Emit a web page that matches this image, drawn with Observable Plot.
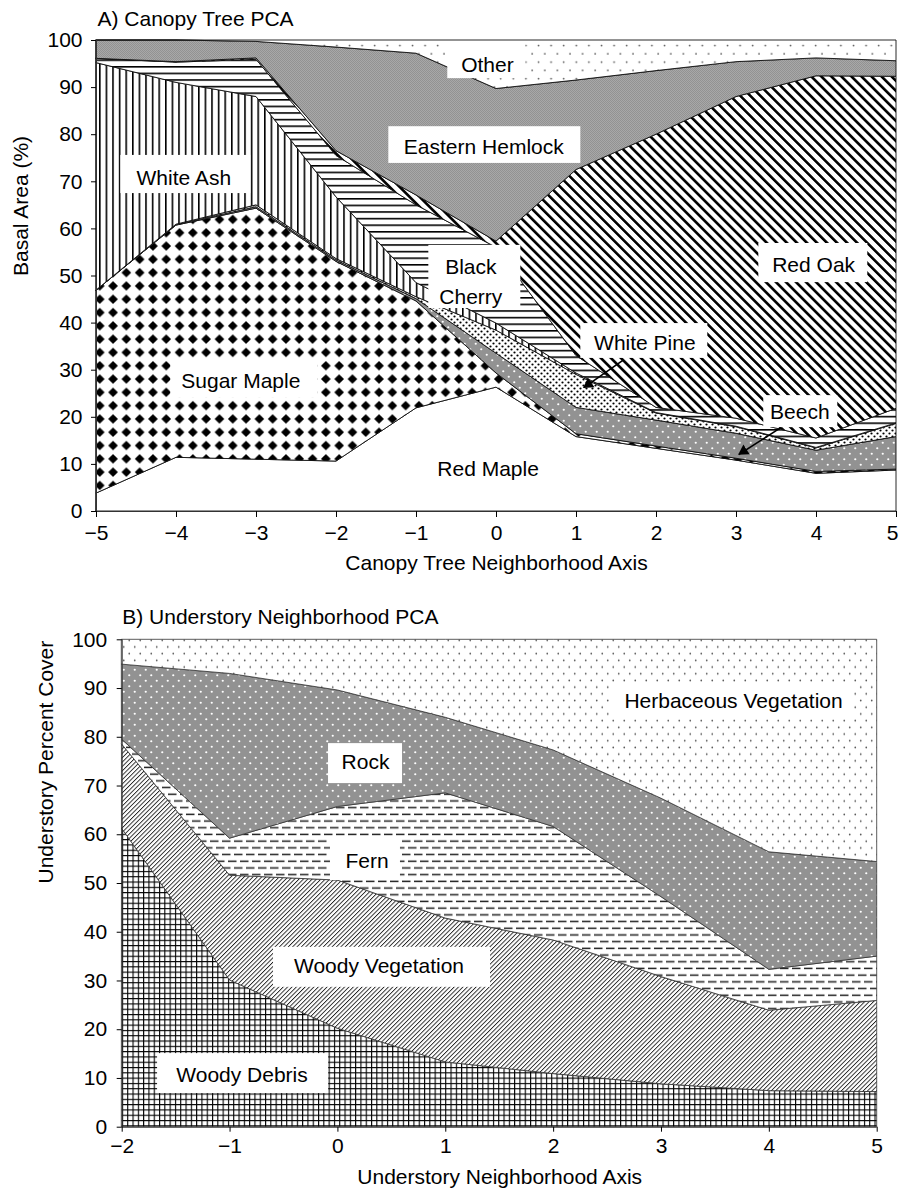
<!DOCTYPE html>
<html>
<head>
<meta charset="utf-8">
<script src="https://cdn.jsdelivr.net/npm/d3@7"></script>
<script src="https://cdn.jsdelivr.net/npm/@observablehq/plot@0.6"></script>
<style>
  html, body { margin: 0; padding: 0; background: #fff; overflow: hidden; }
  #page { position: relative; width: 899px; height: 1189px; }
  #chartA { position: absolute; left: 0; top: 0; }
  #chartB { position: absolute; left: 0; top: 590px; }
</style>
</head>
<body>
<svg width="0" height="0" style="position:absolute">
  <defs>
    <pattern id="pSugar" patternUnits="userSpaceOnUse" width="13.3" height="13.3">
      <rect width="13.3" height="13.3" fill="#fff"/>
      <path d="M6.65 1.8L11.5 6.65L6.65 11.5L1.8 6.65Z" fill="#000"/>
    </pattern>
    <pattern id="pBeech" patternUnits="userSpaceOnUse" width="11" height="11">
      <rect width="11" height="11" fill="#929292"/>
      <circle cx="2.75" cy="2.75" r="1.1" fill="#fff"/>
      <circle cx="8.25" cy="8.25" r="1.1" fill="#fff"/>
    </pattern>
    <pattern id="pPine" patternUnits="userSpaceOnUse" width="6" height="6">
      <rect width="6" height="6" fill="#fff"/>
      <circle cx="1.5" cy="1.5" r="1.1" fill="#000"/>
      <circle cx="4.5" cy="4.5" r="1.1" fill="#000"/>
    </pattern>
    <pattern id="pAsh" patternUnits="userSpaceOnUse" width="6.6" height="10">
      <rect width="6.6" height="10" fill="#fff"/>
      <rect width="1.6" height="10" fill="#000"/>
    </pattern>
    <pattern id="pCherry" patternUnits="userSpaceOnUse" width="10" height="6.6">
      <rect width="10" height="6.6" fill="#fff"/>
      <rect width="10" height="1.6" fill="#000"/>
    </pattern>
    <pattern id="pOak" patternUnits="userSpaceOnUse" width="7.1" height="10" patternTransform="rotate(-45)">
      <rect width="7.1" height="10" fill="#fff"/>
      <rect width="2.6" height="10" fill="#000"/>
    </pattern>
    <pattern id="pHemlock" patternUnits="userSpaceOnUse" width="2" height="2">
      <rect width="2" height="2" fill="#a8a8a8"/>
      <rect width="1" height="1" fill="#929292"/>
      <rect x="1" y="1" width="1" height="1" fill="#929292"/>
    </pattern>
    <pattern id="pOther" patternUnits="userSpaceOnUse" width="12.6" height="16.6">
      <rect width="12.6" height="16.6" fill="#fff"/>
      <circle cx="3" cy="4" r="0.9" fill="#555"/>
      <circle cx="9.3" cy="12.3" r="0.9" fill="#555"/>
    </pattern>
    <pattern id="pDebris" patternUnits="userSpaceOnUse" width="5.3" height="5.3">
      <rect width="5.3" height="5.3" fill="#fff"/>
      <rect width="1.1" height="5.3" fill="#000"/>
      <rect width="5.3" height="1.1" fill="#000"/>
    </pattern>
    <pattern id="pWoodyVeg" patternUnits="userSpaceOnUse" width="3.1" height="10" patternTransform="rotate(45)">
      <rect width="3.1" height="10" fill="#fff"/>
      <rect width="0.9" height="10" fill="#222"/>
    </pattern>
    <pattern id="pFern" patternUnits="userSpaceOnUse" width="12" height="13.4">
      <rect width="12" height="13.4" fill="#fff"/>
      <rect x="0" y="2.5" width="8.5" height="1.5" fill="#222"/>
      <rect x="6" y="9.2" width="6" height="1.5" fill="#222"/>
      <rect x="0" y="9.2" width="2.5" height="1.5" fill="#222"/>
    </pattern>
    <pattern id="pRock" patternUnits="userSpaceOnUse" width="11" height="11">
      <rect width="11" height="11" fill="#929292"/>
      <circle cx="2.75" cy="2.75" r="1.1" fill="#fff"/>
      <circle cx="8.25" cy="8.25" r="1.1" fill="#fff"/>
    </pattern>
    <pattern id="pHerb" patternUnits="userSpaceOnUse" width="11" height="13.4">
      <rect width="11" height="13.4" fill="#fff"/>
      <circle cx="2.75" cy="3.35" r="0.85" fill="#555"/>
      <circle cx="8.25" cy="10.05" r="0.85" fill="#555"/>
    </pattern>
  </defs>
</svg>
<div id="page">
  <div id="chartA"></div>
  <div id="chartB"></div>
</div>
<script>
// ---------- Data: A) Canopy Tree PCA (basal area %, stacked) ----------
const canopyX = [-5, -4, -3, -2, -1, 0, 1, 2, 3, 4, 5];
const redMaple    = [3.8, 11.4, 11.0, 10.6, 21.9, 26.3, 15.8, 13.3, 10.8, 8.0, 8.7];
const sugarMaple  = [43.1, 49.3, 53.3, 42.4, 22.7, 3.0, 0.6, 0.5, 0.4, 0.4, 0.2];
const beech       = [0, 0.1, 0.3, 0.3, 0.5, 4.2, 5.6, 5.5, 5.3, 4.5, 6.9];
const whitePine   = [0, 0.1, 0.4, 0.3, 0.4, 4.9, 7.0, 1.5, 1.4, 0.5, 2.8];
const whiteAsh    = [48.3, 30.1, 23.0, 13.1, 3.0, 1.5, 0.3, 0.1, 0.1, 0.1, 0.1];
const blackCherry = [0.9, 4.3, 7.9, 8.8, 16.5, 16.1, 3.7, 1.1, 1.7, 2.0, 3.1];
const redOak      = [0, 0.1, 0.3, 1.0, 2.1, 1.3, 39.5, 58.0, 68.3, 76.9, 70.5];
const hemlock     = [3.9, 4.6, 3.5, 22.0, 30.1, 32.4, 19.0, 13.5, 7.4, 3.8, 3.3];
const otherTrees  = [0, 0, 0.3, 1.5, 2.8, 10.3, 8.5, 6.5, 4.6, 3.8, 4.4];
const canopyNames = ["Red Maple", "Sugar Maple", "Beech", "White Pine", "White Ash",
                     "Black Cherry", "Red Oak", "Eastern Hemlock", "Other"];
const canopySeries = [redMaple, sugarMaple, beech, whitePine, whiteAsh,
                      blackCherry, redOak, hemlock, otherTrees];
const canopyTicksY = [0, 10, 20, 30, 40, 50, 60, 70, 80, 90, 100];

// ---------- Data: B) Understory Neighborhood PCA (percent cover, stacked) ----------
const underX = [-2, -1, 0, 1, 2, 3, 4, 5];
const woodyDebris = [61.2, 30.1, 20.2, 13.3, 10.9, 8.8, 7.4, 7.2];
const woodyVeg    = [17.3, 21.5, 30.4, 29.5, 27.4, 22.0, 16.5, 18.7];
const fern        = [1.0, 7.6, 15.1, 25.7, 23.3, 16.4, 8.4, 9.1];
const rock        = [15.4, 33.8, 23.9, 15.5, 15.7, 20.2, 24.1, 19.4];
const herbVeg     = [5.1, 7.0, 10.4, 16.0, 22.7, 32.6, 43.6, 45.6];
const underNames = ["Woody Debris", "Woody Vegetation", "Fern", "Rock", "Herbaceous Vegetation"];
const underSeries = [woodyDebris, woodyVeg, fern, rock, herbVeg];
const underTicksY = [0, 10, 20, 30, 40, 50, 60, 70, 80, 90, 100];

// ---------- Styles ----------
const canopyFills = ["#ffffff", "url(#pSugar)", "url(#pBeech)", "url(#pPine)", "url(#pAsh)",
                     "url(#pCherry)", "url(#pOak)", "url(#pHemlock)", "url(#pOther)"];
const underFills = ["url(#pDebris)", "url(#pWoodyVeg)", "url(#pFern)", "url(#pRock)", "url(#pHerb)"];

// ---------- Annotations (data coordinates) ----------
const canopyLabels = [
  {text: "Other", x: -0.113, y: 95.4},
  {text: "Eastern Hemlock", x: -0.159, y: 77.9},
  {text: "White Ash", x: -3.909, y: 71.3},
  {text: "Black\nCherry", x: -0.321, y: 49.2},
  {text: "Red Oak", x: 3.964, y: 52.8},
  {text: "White Pine", x: 1.854, y: 36.2},
  {text: "Beech", x: 3.791, y: 21.7},
  {text: "Sugar Maple", x: -3.196, y: 28.2},
  {text: "Red Maple", x: -0.105, y: 9.6}
];
const canopyBoxes = [
  {x1: -0.609, x2: 0.366, y1: 99.6, y2: 91.9},
  {x1: -1.346, x2: 1.054, y1: 81.7, y2: 73.9},
  {x1: -4.696, x2: -3.071, y1: 75.6, y2: 67.5},
  {x1: -0.846, x2: 0.304, y1: 56.5, y2: 43.1},
  {x1: 3.279, x2: 4.641, y1: 56.9, y2: 48.6},
  {x1: 1.054, x2: 2.641, y1: 39.9, y2: 32.5},
  {x1: 3.341, x2: 4.266, y1: 24.6, y2: 17.8},
  {x1: -4.071, x2: -2.234, y1: 32.5, y2: 24.2}
];
const canopyArrows = [
  {x1: 1.579, y1: 32.1, x2: 1.091, y2: 26.3, hx: 1.150, hy: 27.0, angle: -124.7},
  {x1: 3.554, y1: 17.8, x2: 3.029, y2: 12.1, hx: 3.090, hy: 12.8, angle: -122.7}
];
const underLabels = [
  {text: "Herbaceous Vegetation", x: 3.668, y: 87.4},
  {text: "Rock", x: 0.256, y: 74.9},
  {text: "Fern", x: 0.270, y: 54.6},
  {text: "Woody Vegetation", x: 0.381, y: 33.0},
  {text: "Woody Debris", x: -0.889, y: 10.7}
];
const underBoxes = [
  {x1: 2.530, x2: 4.773, y1: 91.2, y2: 83.6},
  {x1: -0.087, x2: 0.599, y1: 78.7, y2: 70.5},
  {x1: -0.069, x2: 0.580, y1: 59.2, y2: 50.6},
  {x1: -0.597, x2: 1.415, y1: 36.9, y2: 28.7},
  {x1: -1.672, x2: -0.086, y1: 15.1, y2: 6.9}
];

const FONT = '"Liberation Sans", Arial, Helvetica, sans-serif';
const fmt = d => (d < 0 ? "\u2212" + Math.abs(d) : String(d));

function toRows(xs, names, series) {
  const rows = [];
  names.forEach((name, k) => xs.forEach((x, i) => rows.push({x, species: name, value: series[k][i]})));
  return rows;
}

// x axis marks: last tick label kept inside the page edge
function xAxisMarks(ticks, tickSize, tickPadding) {
  const last = ticks[ticks.length - 1];
  return [
    Plot.axisX(ticks, {tickSize, tickPadding, label: null,
      tickFormat: d => (d === last ? "" : fmt(d))}),
    Plot.axisX([last], {tickSize: 0, tickPadding: tickSize + tickPadding, label: null,
      tickFormat: fmt, textAnchor: "end", dx: 2})
  ];
}

const chartA = Plot.plot({
  width: 899, height: 590,
  marginTop: 40, marginBottom: 79, marginLeft: 96, marginRight: 3,
  style: {fontFamily: FONT, fontSize: "21px", color: "#000", background: "#fff"},
  x: {domain: [-5, 5], label: null},
  y: {domain: [0, 100], ticks: canopyTicksY, label: null, tickSize: 5, tickPadding: 9},
  color: {type: "ordinal", domain: canopyNames, range: canopyFills},
  marks: [
    Plot.areaY(toRows(canopyX, canopyNames, canopySeries), {
      x: "x", y: "value", z: "species", fill: "species", order: canopyNames,
      stroke: "#111", strokeWidth: 0.9
    }),
    Plot.ruleX([-5], {stroke: "#333"}),
    Plot.ruleY([0], {stroke: "#333"}),
    ...xAxisMarks(canopyX, 6, 8),
    Plot.axisY(canopyTicksY, {tickSize: 5, tickPadding: 9, label: null}),
    Plot.rect(canopyBoxes, {x1: "x1", x2: "x2", y1: "y1", y2: "y2", fill: "#fff"}),
    Plot.text(canopyLabels, {x: "x", y: "y", text: "text", fill: "#000", lineHeight: 1.4}),
    Plot.link(canopyArrows, {x1: "x1", y1: "y1", x2: "x2", y2: "y2", stroke: "#000", strokeWidth: 1.6}),
    Plot.dot(canopyArrows, {x: "hx", y: "hy", symbol: "triangle2", r: 5.5, rotate: "angle",
      fill: "#000", stroke: "none"}),
    Plot.text(["A) Canopy Tree PCA"], {text: d => d, frameAnchor: "top-left", textAnchor: "start",
      lineAnchor: "top", dx: 1, dy: -29, fill: "#000"}),
    Plot.text(["Canopy Tree Neighborhood Axis"], {text: d => d, frameAnchor: "bottom",
      lineAnchor: "middle", dy: 52, fill: "#000"}),
    Plot.text(["Basal Area (%)"], {text: d => d, frameAnchor: "left", rotate: -90,
      lineAnchor: "middle", dx: -75.5, fill: "#000"})
  ]
});
document.getElementById("chartA").appendChild(chartA);

const chartB = Plot.plot({
  width: 899, height: 599,
  marginTop: 49.3, marginBottom: 62.3, marginLeft: 121.7, marginRight: 22.3,
  style: {fontFamily: FONT, fontSize: "21px", color: "#000", background: "#fff"},
  x: {domain: [-2, 5], label: null},
  y: {domain: [0, 100], label: null},
  color: {type: "ordinal", domain: underNames, range: underFills},
  marks: [
    Plot.areaY(toRows(underX, underNames, underSeries), {
      x: "x", y: "value", z: "species", fill: "species", order: underNames,
      stroke: "#333", strokeWidth: 0.8
    }),
    Plot.ruleX([-2], {stroke: "#333"}),
    Plot.ruleY([0], {stroke: "#333"}),
    Plot.axisX(underX, {tickSize: 5, tickPadding: 6, tickFormat: fmt, label: null}),
    Plot.axisY(underTicksY, {tickSize: 5, tickPadding: 10, label: null}),
    Plot.rect(underBoxes, {x1: "x1", x2: "x2", y1: "y1", y2: "y2", fill: "#fff"}),
    Plot.text(underLabels, {x: "x", y: "y", text: "text", fill: "#000"}),
    Plot.text(["B) Understory Neighborhood PCA"], {text: d => d, frameAnchor: "top-left", textAnchor: "start",
      lineAnchor: "top", dx: 0, dy: -31, fill: "#000"}),
    Plot.text(["Understory Neighborhood Axis"], {text: d => d, frameAnchor: "bottom",
      lineAnchor: "middle", dy: 50, fill: "#000"}),
    Plot.text(["Understory Percent Cover"], {text: d => d, frameAnchor: "left", rotate: -90,
      lineAnchor: "middle", dx: -76, fill: "#000"})
  ]
});
document.getElementById("chartB").appendChild(chartB);
</script>
</body>
</html>
